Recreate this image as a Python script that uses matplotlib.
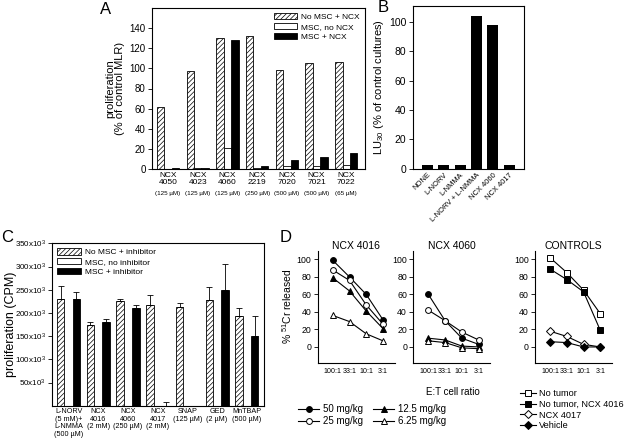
import matplotlib
matplotlib.use('Agg')
import matplotlib.pyplot as plt
from matplotlib.patches import Patch
from matplotlib.ticker import FuncFormatter

plt.rcParams['font.family'] = ['Liberation Sans', 'DejaVu Sans']
plt.rcParams['mathtext.default'] = 'regular'
plt.rcParams['hatch.linewidth'] = 0.5
plt.rcParams['axes.linewidth'] = 0.8

HATCH = '///////'

# ---- panel A data
a_compounds = ['NCX\n4050', 'NCX\n4023', 'NCX\n4060', 'NCX\n2219', 'NCX\n7020', 'NCX\n7021', 'NCX\n7022']
a_conc = ['(125 µM)', '(125 µM)', '(125 µM)', '(250 µM)', '(500 µM)', '(500 µM)', '(65 µM)']
a_no_msc = [62, 97, 130, 132, 98, 105, 106]
a_msc_only = [0, 1, 21, 1, 3, 3, 4]
a_msc_ncx = [0.5, 1, 128, 3, 9, 12, 16]

# ---- panel B data
b_labels = ['NONE', 'L-NORV', 'L-NMMA', 'L-NORV + L-NMMA', 'NCX 4060', 'NCX 4017']
b_lu30 = [2.5, 2.5, 2.5, 104, 98, 2.5]

# ---- panel C data (x1000 CPM)
c_labels = ['L-NORV\n(5 mM)+\nL-NMMA\n(500 µM)', 'NCX\n4016\n(2 mM)', 'NCX\n4060\n(250 µM)',
            'NCX\n4017\n(2 mM)', 'SNAP\n(125 µM)', 'GED\n(2 µM)', 'MnTBAP\n(500 µM)']
c_no_msc = [231, 174, 226, 218, 212, 228, 194]
c_no_msc_err = [28, 6, 4, 20, 9, 27, 16]
c_msc_only = [0, 0, 0, 0, 0, 0, 0]
c_msc_inh = [230, 180, 210, 0, 0, 250, 150]
c_msc_inh_err = [15, 6, 8, 8, 0, 56, 44]

# ---- panel D data (% 51Cr released)
d_ratio = ['100:1', '33:1', '10:1', '3:1']
d4016_50 = [99, 80, 60, 31]
d4016_25 = [88, 76, 48, 26]
d4016_12 = [79, 64, 41, 21]
d4016_6 = [36, 29, 15, 7]
d4060_50 = [60, 30, 10, 3]
d4060_25 = [42, 30, 17, 8]
d4060_12 = [10, 8, 1, 0]
d4060_6 = [7, 5, -1, -2]
ctrl_no_tumor = [102, 85, 65, 38]
ctrl_no_tumor_4016 = [89, 77, 63, 19]
ctrl_4017 = [18, 12, 3, 0]
ctrl_vehicle = [6, 5, 0, 0]

W, H = 627, 443
fig = plt.figure(figsize=(W / 100, H / 100), dpi=100)


def box(l, t, r, b):
    return [l / W, 1 - b / H, (r - l) / W, (b - t) / H]


def ytick_style(ax, size):
    ax.tick_params(axis='y', direction='out', length=3, width=0.6, labelsize=size, pad=1.5)


def bar_legend(ax, labels, loc):
    ax.legend(handles=[Patch(facecolor='white', edgecolor='black', hatch=HATCH, lw=0.6),
                       Patch(facecolor='white', edgecolor='black', lw=0.6),
                       Patch(facecolor='black', edgecolor='black', lw=0.6)],
              labels=labels, loc=loc, fontsize=6, frameon=False, handlelength=2.8,
              handleheight=0.8, labelspacing=0.2, handletextpad=0.5, borderpad=0.3,
              borderaxespad=0.3)


# ================= A
axA = fig.add_axes(box(152, 8, 365, 169))
xa = list(range(len(a_compounds)))
w = 0.25
axA.bar([x - w for x in xa], a_no_msc, w, facecolor='white', edgecolor='black', hatch=HATCH, lw=0.6)
axA.bar(xa, a_msc_only, w, facecolor='white', edgecolor='black', lw=0.6)
axA.bar([x + w for x in xa], a_msc_ncx, w, facecolor='black', edgecolor='black', lw=0.6)
axA.set_xlim(-0.54, 6.63)
axA.set_ylim(0, 160)
axA.set_yticks(range(0, 141, 20))
ytick_style(axA, 7)
axA.set_xticks(xa)
axA.set_xticklabels(a_compounds, fontsize=6, linespacing=1.0)
axA.tick_params(axis='x', length=0, pad=2)
for i, c in enumerate(a_conc):
    axA.annotate(c, xy=(i, 0), xycoords=('data', 'axes fraction'), xytext=(0, -17.5),
                 textcoords='offset points', ha='center', va='center', fontsize=4.5)
axA.set_ylabel('proliferation\n(% of control MLR)', fontsize=8, labelpad=3, linespacing=1.05)
bar_legend(axA, ['No MSC + NCX', 'MSC, no NCX', 'MSC + NCX'], 'upper right')
fig.text(106 / W, 1 - 9 / H, 'A', fontsize=12, ha='center', va='center')

# ================= B
axB = fig.add_axes(box(412.7, 6, 524, 168.7))
xb = list(range(len(b_labels)))
axB.bar(xb, b_lu30, 0.67, color='black')
axB.set_xlim(-0.9, 5.9)
axB.set_ylim(0, 111)
axB.set_yticks(range(0, 101, 20))
ytick_style(axB, 7.5)
axB.set_xticks(xb)
axB.set_xticklabels(b_labels, rotation=45, ha='right', rotation_mode='anchor', fontsize=5.4)
axB.tick_params(axis='x', length=0, pad=2)
axB.set_ylabel('LU$_{30}$ (% of control cultures)', fontsize=8, labelpad=2)
fig.text(383 / W, 1 - 8 / H, 'B', fontsize=12, ha='center', va='center')

# ================= C
axC = fig.add_axes(box(52.3, 243.3, 264.3, 405.7))
xc = list(range(len(c_labels)))
wc = 0.25
off = 0.265
xh = [x - off for x in xc]
xk = [x + off for x in xc]
axC.bar(xh, c_no_msc, wc, facecolor='white', edgecolor='black', hatch=HATCH, lw=0.6)
axC.bar(xc, c_msc_only, wc, facecolor='white', edgecolor='black', lw=0.6)
axC.bar(xk, c_msc_inh, wc, facecolor='black', edgecolor='black', lw=0.6)
axC.errorbar(xh, c_no_msc, yerr=[[0] * 7, c_no_msc_err], fmt='none', ecolor='black',
             elinewidth=0.6, capsize=2, capthick=0.6)
axC.errorbar(xk, c_msc_inh, yerr=[[0] * 7, c_msc_inh_err], fmt='none', ecolor='black',
             elinewidth=0.6, capsize=2, capthick=0.6)
axC.set_xlim(-0.55, 6.59)
axC.set_ylim(0, 350)
axC.set_yticks(range(50, 351, 50))
axC.yaxis.set_major_formatter(FuncFormatter(lambda v, p: f'{int(v)}x10$^{{3}}$'))
ytick_style(axC, 5.8)
axC.set_xticks(xc)
axC.set_xticklabels(c_labels, fontsize=5.2, linespacing=1.1)
axC.tick_params(axis='x', length=0, pad=2)
axC.set_ylabel('proliferation (CPM)', fontsize=9)
axC.yaxis.set_label_coords(17.5 / W, 1 - 324 / H, transform=fig.transFigure)
bar_legend(axC, ['No MSC + inhibitor', 'MSC, no inhibitor', 'MSC + inhibitor'], 'upper left')
fig.text(7 / W, 1 - 238 / H, 'C', fontsize=12, ha='center', va='center')

# ================= D
d_lefts = [317.7, 413.3, 535]
d_titles = ['NCX 4016', 'NCX 4060', 'CONTROLS']
axesD = []
for l, t in zip(d_lefts, d_titles):
    ax = fig.add_axes(box(l, 250.7, l + 77, 362.7))
    ax.spines['top'].set_visible(False)
    ax.spines['right'].set_visible(False)
    ax.set_xlim(-0.9, 3.7)
    ax.set_ylim(-18, 110)
    ax.set_yticks(range(0, 101, 20))
    ytick_style(ax, 6.3)
    ax.set_xticks(range(len(d_ratio)))
    ax.set_xticklabels(d_ratio, fontsize=5.1)
    ax.tick_params(axis='x', length=0, pad=4)
    ax.set_title(t, fontsize=7.5, pad=1.5)
    axesD.append(ax)

xd = list(range(len(d_ratio)))
mk = dict(color='black', lw=0.8, ms=4.2, mew=0.7)


def series(ax, y, marker, filled):
    return ax.plot(xd, y, marker=marker, mfc='black' if filled else 'white', mec='black', **mk)[0]


h1 = series(axesD[0], d4016_50, 'o', True)
h2 = series(axesD[0], d4016_25, 'o', False)
h3 = series(axesD[0], d4016_12, '^', True)
h4 = series(axesD[0], d4016_6, '^', False)
series(axesD[1], d4060_50, 'o', True)
series(axesD[1], d4060_25, 'o', False)
series(axesD[1], d4060_12, '^', True)
series(axesD[1], d4060_6, '^', False)
c1 = series(axesD[2], ctrl_no_tumor, 's', False)
c2 = series(axesD[2], ctrl_no_tumor_4016, 's', True)
c3 = series(axesD[2], ctrl_4017, 'D', False)
c4 = series(axesD[2], ctrl_vehicle, 'D', True)
for c in (c3, c4):
    c.set_markersize(3.8)

axesD[0].set_ylabel('% $^{51}$Cr released', fontsize=7.5, labelpad=2)
fig.text(453 / W, 1 - 392 / H, 'E:T cell ratio', fontsize=7, ha='center', va='center')
fig.text(286 / W, 1 - 238 / H, 'D', fontsize=12, ha='center', va='center')

fig.legend(handles=[h1, h2, h3, h4], labels=['50 mg/kg', '25 mg/kg', '12.5 mg/kg', '6.25 mg/kg'],
           loc='upper left', bbox_to_anchor=(298 / W, 1 - 404 / H), ncol=2, fontsize=7,
           frameon=False, handlelength=2.2, handletextpad=0.4, columnspacing=1.0,
           labelspacing=0.25, borderpad=0, borderaxespad=0)
fig.legend(handles=[c1, c2, c3, c4], labels=['No tumor', 'No tumor, NCX 4016', 'NCX 4017', 'Vehicle'],
           loc='upper left', bbox_to_anchor=(520 / W, 1 - 389 / H), ncol=1, fontsize=6.6,
           frameon=False, handlelength=1.7, handletextpad=0.4, labelspacing=0.2,
           borderpad=0, borderaxespad=0)

fig.savefig('out.png', dpi=100)
